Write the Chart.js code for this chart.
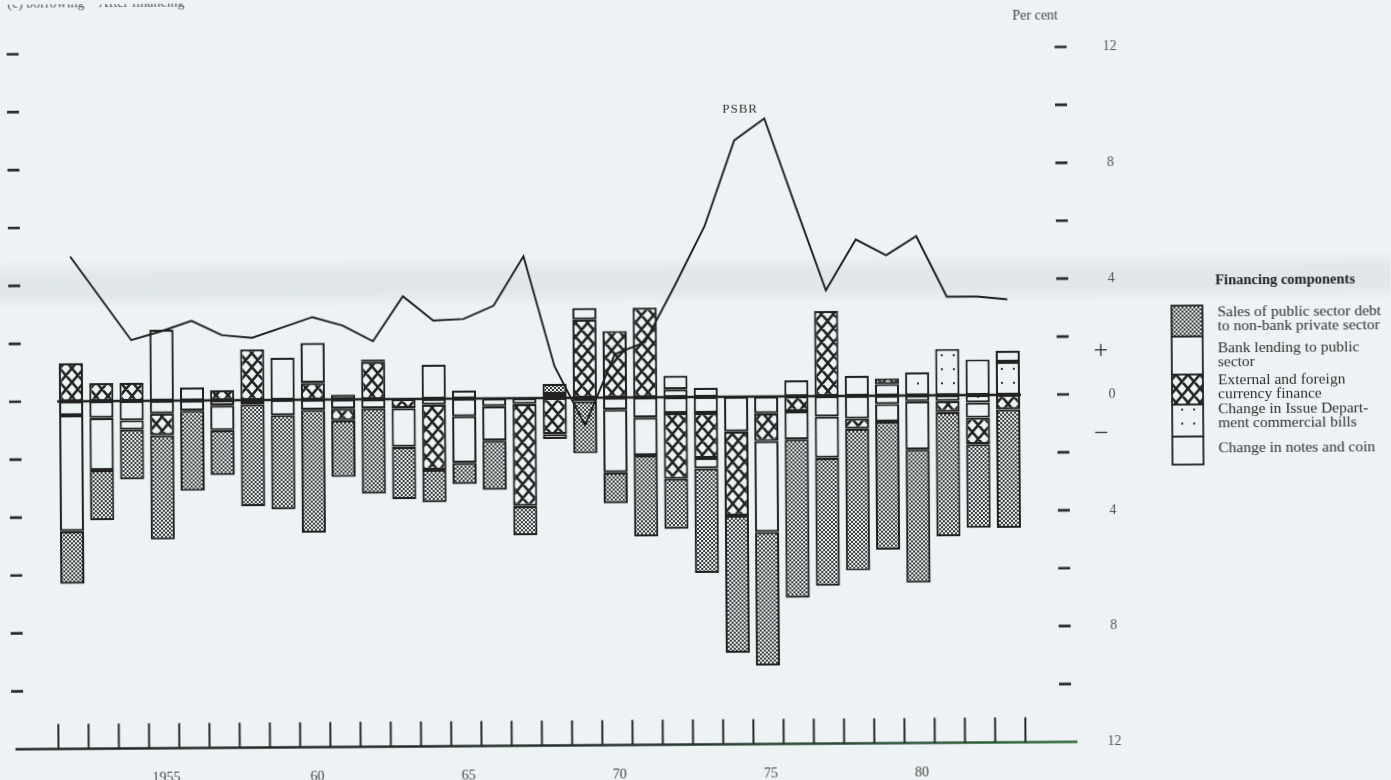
<!DOCTYPE html>
<html>
<head>
<meta charset="utf-8">
<title>PSBR and its financing</title>
<script src="https://cdn.jsdelivr.net/npm/chart.js@4.4.1/dist/chart.umd.min.js"></script>
<style>
  html, body { margin: 0; padding: 0; background: #edf3f4; overflow: hidden; }
  canvas { display: block; transform: rotate(-0.4deg); transform-origin: 50% 50%; }
</style>
</head>
<body>
<canvas id="chart" width="1391" height="780"></canvas>
<script>
// Calendar years shown on the horizontal axis
const years = [1952, 1953, 1954, 1955, 1956, 1957, 1958, 1959, 1960, 1961,
               1962, 1963, 1964, 1965, 1966, 1967, 1968, 1969, 1970, 1971,
               1972, 1973, 1974, 1975, 1976, 1977, 1978, 1979, 1980, 1981,
               1982, 1983];

// Public sector borrowing requirement, per cent of GDP
const psbr = [5.0, 3.55, 2.1, 2.4, 2.75, 2.25, 2.15, 2.5, 2.85, 2.55,
              2.0, 3.55, 2.7, 2.75, 3.2, 4.9, 1.1, -0.95, 1.5, 1.9,
              3.85, 5.9, 8.85, 9.6, 6.6, 3.65, 5.4, 4.85, 5.5, 3.4,
              3.4, 3.3];

// Financing components (plotted with financing below the axis)
const salesDebt = [-1.82, -1.73, -1.72, -3.6, -2.77, -1.55, -3.52, -3.25, -4.24, -1.96,
                   -2.94, -1.81, -1.12, -0.73, -1.7, -1.01, 0.35, -1.8, -1.07, -2.8,
                   -1.73, -3.61, -4.74, -4.61, -5.47, -4.42, -4.9, -4.42, -4.6, -4.29,
                   -2.88, -4.09];
const bankLending = [-4.0, -1.8, -0.32, 2.45, 0.45, -0.85, 0, 1.46, 1.38, 0.16,
                     0.08, -1.33, 1.18, -1.61, -1.19, 0, -0.17, 0.4, -2.16, -1.3,
                     0.47, -0.36, 0, -3.14, -0.97, -1.42, 0.69, -0.61, -1.67, 0,
                     1.23, 0.38];
const externalFinance = [1.32, 0.62, 0.63, -0.75, 0, 0.35, 1.75, 0, 0.58, -0.4,
                         1.29, -0.32, -2.25, 0, 0, -3.52, -1.25, 2.7, 2.3, 3.1,
                         -2.27, -1.56, -2.91, -0.96, -0.52, 2.94, -0.35, 0.2, 0, -0.38,
                         -0.92, -0.5];
const issueBills = [0, 0, 0, 0, 0, 0, 0, 0, 0, 0,
                    0, 0, 0, 0.28, 0, 0, 0, 0, 0, 0,
                    0.27, 0.32, 0, 0, 0, 0, 0, 0.4, 0.8, 1.6,
                    -0.26, 1.14];
const notesCoin = [-0.48, -0.58, -0.67, -0.44, -0.35, -0.18, -0.15, -0.53, -0.35, -0.32,
                   -0.32, 0, -0.2, -0.61, -0.27, -0.2, 0.14, -0.12, -0.42, -0.7,
                   -0.55, -0.55, -1.2, -0.58, 0.55, -0.71, -0.78, -0.29, -0.2, -0.2,
                   -0.52, 0];

// Axis marks
const dashValues = [12, 10, 8, 6, 4, 2, 0, -2, -4, -6, -8, -10];
const rightLabelValues = [12, 8, 4, 0, -4, -8, -12];
const yearTickLabels = [['1955', 1955], ['60', 1960], ['65', 1965], ['70', 1970], ['75', 1975], ['80', 1980]];

// Legend text, top to bottom
const legendTitle = 'Financing components';
const salesLines = ['Sales of public sector debt', 'to non-bank private sector'];
const bankLines = ['Bank lending to public', 'sector'];
const externalLines = ['External and foreign', 'currency finance'];
const billsLines = ['Change in Issue Depart-', 'ment commercial bills'];
const notesLines = ['Change in notes and coin'];

const PAPER = '#edf3f4';
const INK = '#222';
const SERIF = '"Liberation Serif", "DejaVu Serif", serif';

function makePattern(w, h, paint) {
  const c = document.createElement('canvas');
  c.width = w; c.height = h;
  const g = c.getContext('2d');
  g.fillStyle = PAPER;
  g.fillRect(0, 0, w, h);
  paint(g, w, h);
  return g.createPattern(c, 'repeat');
}

// Fine stipple for debt sales
const stipple = makePattern(4, 4, (g) => {
  g.fillStyle = '#343636';
  g.fillRect(0, 0, 2, 2);
  g.fillRect(2, 2, 2, 2);
});

// Diamond lattice for external finance
const lattice = makePattern(12, 14, (g, w, h) => {
  g.strokeStyle = INK;
  g.lineWidth = 2.5;
  g.beginPath();
  for (let o = -w; o <= w; o += w) {
    g.moveTo(o - 1, -h / w);
    g.lineTo(o + w + 1, h + h / w);
    g.moveTo(o + w + 1, -h / w);
    g.lineTo(o - 1, h + h / w);
  }
  g.stroke();
});

// Sparse dots for commercial bills
const sparseDots = makePattern(12, 14, (g) => {
  g.fillStyle = '#333';
  g.fillRect(5, 6, 2, 2);
});

const barStyle = {
  borderColor: INK,
  borderWidth: 2.2,
  borderSkipped: false,
  barPercentage: 0.8,
  categoryPercentage: 1.0,
  order: 1
};

const decor = {
  id: 'decor',
  beforeDraw(chart) {
    const { ctx, width, height } = chart;
    ctx.save();
    ctx.fillStyle = PAPER;
    ctx.fillRect(0, 0, width, height);
    // faint grey band across the sheet
    const band = ctx.createLinearGradient(0, 255, 0, 305);
    band.addColorStop(0, 'rgba(120,130,132,0)');
    band.addColorStop(0.35, 'rgba(120,130,132,0.10)');
    band.addColorStop(0.7, 'rgba(120,130,132,0.10)');
    band.addColorStop(1, 'rgba(120,130,132,0)');
    ctx.fillStyle = band;
    ctx.fillRect(0, 255, width, 50);
    ctx.restore();
  },
  afterDraw(chart) {
    const { ctx } = chart;
    const x = chart.scales.x;
    const y = chart.scales.y;
    const area = chart.chartArea;
    const Y = (v) => y.getPixelForValue(v);
    ctx.save();

    // zero line across the bars
    ctx.strokeStyle = INK;
    ctx.lineWidth = 2.6;
    ctx.beginPath();
    ctx.moveTo(area.left + 1, Y(0));
    ctx.lineTo(area.right - 2, Y(0));
    ctx.stroke();

    // dash marks on both sides
    ctx.lineWidth = 2.6;
    ctx.strokeStyle = '#2a2a2a';
    dashValues.forEach((v) => {
      ctx.beginPath();
      ctx.moveTo(9, Y(v)); ctx.lineTo(21, Y(v));
      ctx.moveTo(1057, Y(v)); ctx.lineTo(1069, Y(v));
      ctx.stroke();
    });

    // right-hand scale labels
    ctx.fillStyle = '#555';
    ctx.font = '14px ' + SERIF;
    ctx.textAlign = 'center';
    ctx.textBaseline = 'middle';
    rightLabelValues.forEach((v) => ctx.fillText(String(Math.abs(v)), 1112, Y(v)));

    ctx.fillStyle = '#2e2e2e';
    ctx.font = '26px ' + SERIF;
    ctx.fillText('+', 1101, Y(1.5) + 1);
    ctx.fillText('\u2212', 1101, Y(-1.4));

    ctx.fillStyle = '#444';
    ctx.font = '14px ' + SERIF;
    ctx.textAlign = 'left';
    ctx.fillText('Per cent', 1015, 18);

    // clipped heading at the top edge
    ctx.fillStyle = '#555';
    ctx.textBaseline = 'alphabetic';
    ctx.fillText('(c) borrowing    After financing', 10, 3);

    // time axis: baseline and year-boundary ticks
    const base = Y(-12);
    const step = x.getPixelForValue(1) - x.getPixelForValue(0);
    const grad = ctx.createLinearGradient(13, 0, 1075, 0);
    grad.addColorStop(0, '#222');
    grad.addColorStop(0.6, '#22302a');
    grad.addColorStop(1, '#2f6a3c');
    ctx.strokeStyle = grad;
    ctx.lineWidth = 2.6;
    ctx.beginPath();
    ctx.moveTo(13, base);
    ctx.lineTo(1075, base);
    ctx.stroke();
    ctx.strokeStyle = '#2a2a2a';
    ctx.lineWidth = 2;
    ctx.beginPath();
    for (let i = 0; i <= years.length; i++) {
      const px = x.getPixelForValue(0) + (i - 0.5) * step;
      ctx.moveTo(px, base);
      ctx.lineTo(px, base - 25);
    }
    ctx.stroke();

    ctx.fillStyle = '#444';
    ctx.font = '14px ' + SERIF;
    ctx.textAlign = 'center';
    ctx.textBaseline = 'middle';
    yearTickLabels.forEach(([txt, yr]) => {
      ctx.fillText(txt, x.getPixelForValue(years.indexOf(yr)) + 2, 774);
    });

    // series label beside the peak
    const top = Math.max(...psbr);
    const peak = psbr.indexOf(top);
    ctx.font = '13px ' + SERIF;
    ctx.fillStyle = '#333';
    ctx.letterSpacing = '1px';
    ctx.fillText('PSBR', x.getPixelForValue(peak) - 24, Y(top) - 9);
    ctx.letterSpacing = '0px';

    // legend: stacked key box with labels
    const ds = chart.data.datasets;
    const key = [
      { fill: ds[4].backgroundColor, h: 31, lines: salesLines, ty: [316, 330] },
      { fill: ds[3].backgroundColor, h: 38, lines: bankLines, ty: [352, 366] },
      { fill: ds[2].backgroundColor, h: 30, lines: externalLines, ty: [384, 398] },
      { fill: ds[0].backgroundColor, h: 32, lines: billsLines, ty: [413, 427] },
      { fill: ds[1].backgroundColor, h: 28, lines: notesLines, ty: [452] }
    ];
    ctx.font = 'bold 14.5px ' + SERIF;
    ctx.fillStyle = '#222';
    ctx.textAlign = 'left';
    ctx.fillText(legendTitle, 1216, 284);
    let boxTop = 309;
    ctx.font = '15.5px ' + SERIF;
    key.forEach((k) => {
      ctx.fillStyle = k.fill;
      ctx.fillRect(1172, boxTop, 31, k.h);
      ctx.strokeStyle = INK;
      ctx.lineWidth = 1.8;
      ctx.strokeRect(1172, boxTop, 31, k.h);
      ctx.fillStyle = '#2e2e2e';
      k.lines.forEach((ln, j) => ctx.fillText(ln, 1218, k.ty[j]));
      boxTop += k.h;
    });
    ctx.restore();
  }
};

const chart = new Chart(document.getElementById('chart').getContext('2d'), {
  type: 'bar',
  data: {
    labels: years,
    datasets: [
      Object.assign({ label: 'Change in Issue Department commercial bills', data: issueBills, backgroundColor: sparseDots }, barStyle),
      Object.assign({ label: 'Change in notes and coin', data: notesCoin, backgroundColor: PAPER }, barStyle),
      Object.assign({ label: 'External and foreign currency finance', data: externalFinance, backgroundColor: lattice }, barStyle),
      Object.assign({ label: 'Bank lending to public sector', data: bankLending, backgroundColor: PAPER }, barStyle),
      Object.assign({ label: 'Sales of public sector debt to non-bank private sector', data: salesDebt, backgroundColor: stipple }, barStyle),
      {
        type: 'line',
        label: 'PSBR',
        data: psbr,
        stack: 'psbr',
        order: 0,
        borderColor: '#1e1e1e',
        borderWidth: 1.9,
        pointRadius: 0,
        tension: 0,
        fill: false
      }
    ]
  },
  options: {
    responsive: false,
    animation: false,
    devicePixelRatio: 1,
    layout: { padding: { left: 56, right: 368, top: 49.5, bottom: 35.5 } },
    plugins: { legend: { display: false }, tooltip: { enabled: false } },
    scales: {
      x: { display: false, stacked: true },
      y: { display: false, stacked: true, min: -12, max: 12 }
    }
  },
  plugins: [decor]
});
</script>
</body>
</html>
